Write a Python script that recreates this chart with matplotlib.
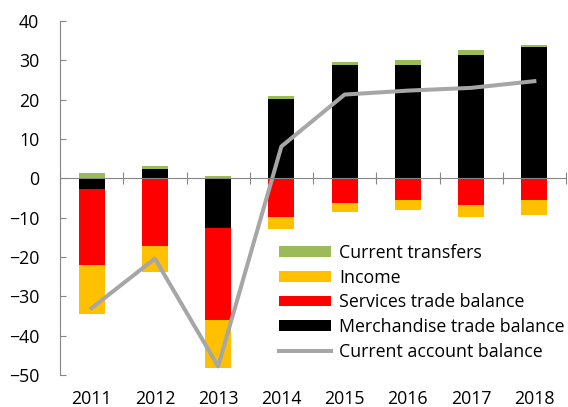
import numpy as np
import matplotlib.pyplot as plt
from matplotlib.transforms import blended_transform_factory

plt.rcParams['font.family'] = ['Open Sans', 'DejaVu Sans']

years = ['2011', '2012', '2013', '2014', '2015', '2016', '2017', '2018']
merchandise = [-2.7, 2.4, -12.5, 20.2, 28.8, 28.8, 31.4, 33.3]
services = [-19.3, -17.3, -23.6, -9.9, -6.3, -5.6, -6.7, -5.6]
income = [-12.4, -6.5, -12.2, -2.9, -2.3, -2.5, -3.2, -3.6]
transfers = [1.3, 0.7, 0.5, 0.7, 0.8, 1.2, 1.2, 0.7]
current_account = [-33.0, -20.4, -47.8, 8.1, 21.3, 22.3, 23.0, 24.7]

series = [
    (merchandise, '#000000', 'Merchandise trade balance'),
    (services, '#FF0000', 'Services trade balance'),
    (income, '#FFC000', 'Income'),
    (transfers, '#9BBB59', 'Current transfers'),
]

fig = plt.figure(figsize=(5.68, 4.07), dpi=100)
ax = fig.add_axes([60 / 568, 1 - 375 / 407, 506 / 568, 354 / 407])

x = np.arange(len(years))
pos = np.zeros(len(years))
neg = np.zeros(len(years))
bars = {}
for vals, col, lab in series:
    v = np.array(vals)
    bottom = np.where(v >= 0, pos, neg)
    bars[lab] = ax.bar(x, v, 0.41, bottom=bottom, color=col, label=lab, zorder=2)
    pos = pos + np.where(v >= 0, v, 0)
    neg = neg + np.where(v < 0, v, 0)

line, = ax.plot(x, current_account, color='#A6A6A6', lw=2.9, zorder=3,
                label='Current account balance')

ax.set_xlim(-0.5, 7.5)
ax.set_ylim(-50, 40)
ax.set_yticks(range(-50, 41, 10))

for s in ['top', 'right']:
    ax.spines[s].set_visible(False)
ax.spines['left'].set_color('#868686')
ax.spines['bottom'].set_position(('data', 0))
ax.spines['bottom'].set_color('#868686')
ax.spines['bottom'].set_zorder(4)

ax.set_xticks(np.arange(-0.5, 8, 1))
ax.set_xticklabels([])
ax.tick_params(axis='x', direction='inout', length=8, color='#868686')
ax.tick_params(axis='y', direction='in', length=4, color='#868686', pad=15,
               labelsize=12.8)

tr = blended_transform_factory(ax.transData, ax.transAxes)
for i, y in enumerate(years):
    ax.text(i, -0.068, y, transform=tr, ha='center', va='center', fontsize=12.8)

handles = [bars['Current transfers'], bars['Income'], bars['Services trade balance'],
           bars['Merchandise trade balance'], line]
ax.legend(handles=handles, loc='lower right', bbox_to_anchor=(1.012, 0.02),
          frameon=False, fontsize=12.8, handlelength=2.9, handleheight=0.55,
          labelspacing=0.38, handletextpad=0.5, borderaxespad=0)

fig.savefig('out.png', dpi=100)
